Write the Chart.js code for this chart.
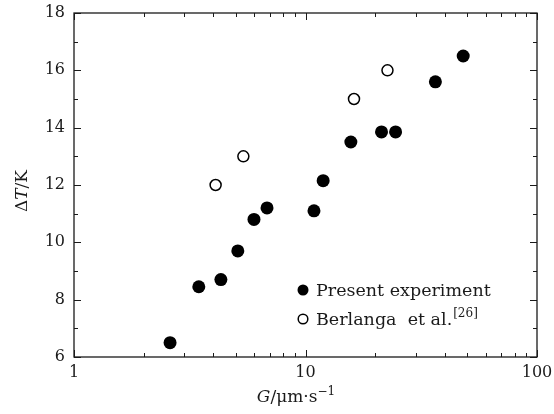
<!DOCTYPE html>
<html><head><meta charset="utf-8">
<script src="https://cdn.jsdelivr.net/npm/chart.js@4"></script>
<style>html,body{margin:0;padding:0;background:#fff}#wrap{width:554px;height:414px}</style>
</head><body><div id="wrap"><canvas id="c" width="554" height="414"></canvas></div>
<script>
const presentG = [2.60, 3.46, 4.31, 5.10, 5.99, 6.82, 10.88, 11.92, 15.7, 21.3, 24.5, 36.4, 48.0];
const presentDT = [6.5, 8.45, 8.7, 9.7, 10.8, 11.2, 11.1, 12.15, 13.5, 13.85, 13.85, 15.6, 16.5];
const berlangaG = [4.09, 5.39, 16.2, 22.6];
const berlangaDT = [12.0, 13.0, 15.0, 16.0];
const xTickLabels = [1, 10, 100];
const yTickLabels = [6, 8, 10, 12, 14, 16, 18];
const seriesNames = ['Present experiment', 'Berlanga  et al.'];
const refNote = '[26]';

const FONT = '"DejaVu Serif", "Liberation Serif", serif';
const INK = '#1a1a1a';

function toPts(xs, ys) { return xs.map((x, i) => ({x: x, y: ys[i]})); }

const framePlugin = {
  id: 'frame',
  afterDraw(chart) {
    const ctx = chart.ctx, a = chart.chartArea;
    const xs = chart.scales.x, ys = chart.scales.y;
    ctx.save();
    ctx.strokeStyle = INK;
    ctx.lineWidth = 1.3;
    ctx.strokeRect(a.left, a.top, a.right - a.left, a.bottom - a.top);
    ctx.lineWidth = 1;
    for (let v = ys.min; v <= ys.max; v += 1) {
      const p = Math.round(ys.getPixelForValue(v)) + 0.5;
      const L = yTickLabels.includes(v) ? 7 : 4;
      ctx.beginPath();
      ctx.moveTo(a.left, p); ctx.lineTo(a.left + L, p);
      ctx.moveTo(a.right, p); ctx.lineTo(a.right - L, p);
      ctx.stroke();
    }
    const vals = [];
    for (let d = 1; d < 100; d *= 10) for (let k = 1; k <= 10; k++) vals.push(k * d);
    vals.forEach(v => {
      const p = Math.round(xs.getPixelForValue(v)) + 0.5;
      const L = xTickLabels.includes(v) ? 7 : 4;
      ctx.beginPath();
      ctx.moveTo(p, a.bottom); ctx.lineTo(p, a.bottom - L);
      ctx.moveTo(p, a.top); ctx.lineTo(p, a.top + L);
      ctx.stroke();
    });

    ctx.fillStyle = INK;
    ctx.textBaseline = 'alphabetic';
    const cx = 296;
    const by = 402;
    const partsX = [
      {t: 'G', f: 'italic 17px ' + FONT, dy: 0},
      {t: '/μm·s', f: '17px ' + FONT, dy: 0},
      {t: '−1', f: '12px ' + FONT, dy: -7}
    ];
    let w = 0;
    partsX.forEach(p => { ctx.font = p.f; p.w = ctx.measureText(p.t).width; w += p.w; });
    let x0 = cx - w / 2;
    ctx.textAlign = 'left';
    partsX.forEach(p => { ctx.font = p.f; ctx.fillText(p.t, x0, by + p.dy); x0 += p.w; });

    ctx.save();
    ctx.translate(27, 191);
    ctx.rotate(-Math.PI / 2);
    const partsY = [
      {t: 'Δ', f: '17px ' + FONT},
      {t: 'T', f: 'italic 17px ' + FONT},
      {t: '/K', f: '17px ' + FONT}
    ];
    w = 0;
    partsY.forEach(p => { ctx.font = p.f; p.w = ctx.measureText(p.t).width; w += p.w; });
    x0 = -w / 2;
    partsY.forEach(p => { ctx.font = p.f; ctx.fillText(p.t, x0, 0); x0 += p.w; });
    ctx.restore();

    const lx = 303, tx = 316;
    const rows = [290, 319];
    chart.data.datasets.forEach((ds, i) => {
      const y = rows[i];
      ctx.beginPath();
      ctx.arc(lx, y, i === 0 ? 5.5 : 4.8, 0, Math.PI * 2);
      if (i === 0) { ctx.fillStyle = '#000'; ctx.fill(); }
      else { ctx.fillStyle = '#fff'; ctx.fill(); ctx.lineWidth = 1.5; ctx.strokeStyle = '#000'; ctx.stroke(); }
      ctx.fillStyle = INK;
      ctx.font = '17.5px ' + FONT;
      ctx.textBaseline = 'middle';
      ctx.fillText(ds.label, tx, y + 1);
      if (i === 1) {
        const tw = ctx.measureText(ds.label).width;
        ctx.font = '12px ' + FONT;
        ctx.fillText(refNote, tx + tw + 1, y - 5);
      }
    });
    ctx.restore();
  }
};

new Chart(document.getElementById('c'), {
  type: 'scatter',
  data: {
    datasets: [
      {label: seriesNames[0], data: toPts(presentG, presentDT),
       pointRadius: 6.5, pointBackgroundColor: '#000', pointBorderColor: '#000', pointBorderWidth: 0},
      {label: seriesNames[1], data: toPts(berlangaG, berlangaDT),
       pointRadius: 5.5, pointBackgroundColor: '#fff', pointBorderColor: '#000', pointBorderWidth: 1.5}
    ]
  },
  options: {
    responsive: false, animation: false, devicePixelRatio: 1,
    layout: {padding: {top: 13, right: 17, left: 0, bottom: 0}},
    plugins: {legend: {display: false}, tooltip: {enabled: false}},
    scales: {
      x: {
        type: 'logarithmic', min: 1, max: 100,
        grid: {display: false, drawTicks: false},
        border: {display: false},
        ticks: {
          autoSkip: false, maxRotation: 0, padding: 6, color: INK,
          font: {family: FONT, size: 16},
          callback: v => { const t = xTickLabels.find(k => Math.abs(k - v) < 1e-9); return t === undefined ? '' : String(t); }
        },
        afterFit: s => { s.height = 57; s.paddingLeft = 0; s.paddingRight = 0; }
      },
      y: {
        type: 'linear', min: 6, max: 18,
        grid: {display: false, drawTicks: false},
        border: {display: false},
        afterBuildTicks: s => { s.ticks = yTickLabels.map(v => ({value: v})); },
        ticks: {padding: 9, color: INK, font: {family: FONT, size: 16}},
        afterFit: s => { s.width = 74; s.paddingTop = 0; s.paddingBottom = 0; }
      }
    }
  },
  plugins: [framePlugin]
});
</script></body></html>
